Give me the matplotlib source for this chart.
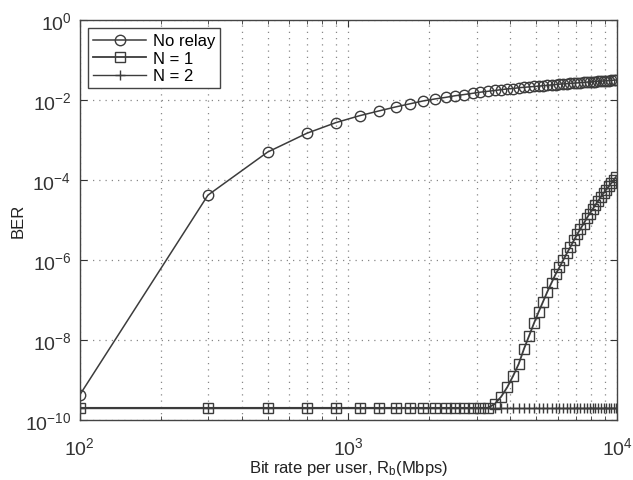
import numpy as np
import matplotlib
matplotlib.use("Agg")
import matplotlib.pyplot as plt
from matplotlib.ticker import LogLocator, NullFormatter

plt.rcParams['font.family'] = ['Liberation Sans', 'DejaVu Sans']
plt.rcParams['mathtext.fontset'] = 'custom'
plt.rcParams['mathtext.rm'] = 'Liberation Sans'
plt.rcParams['mathtext.it'] = 'Liberation Sans:italic'

# bit rate per user (Mbps)
rate = [100, 300, 500, 700, 900, 1100, 1300, 1500, 1700, 1900,
        2100, 2300, 2500, 2700, 2900, 3100, 3300, 3500, 3700, 3900,
        4100, 4300, 4500, 4700, 4900, 5100, 5300, 5500, 5700, 5900,
        6100, 6300, 6500, 6700, 6900, 7100, 7300, 7500, 7700, 7900,
        8100, 8300, 8500, 8700, 8900, 9100, 9300, 9500, 9700, 9900]

# BER without relay
ber_norelay = [4.2e-10, 4.2e-5, 5.0e-4, 1.48e-3, 2.75e-3, 4.07e-3, 5.37e-3, 6.76e-3, 8.13e-3, 9.55e-3,
               1.07e-2, 1.17e-2, 1.29e-2, 1.38e-2, 1.48e-2, 1.58e-2, 1.66e-2, 1.74e-2, 1.82e-2, 1.91e-2,
               1.95e-2, 2.04e-2, 2.09e-2, 2.14e-2, 2.19e-2, 2.24e-2, 2.29e-2, 2.34e-2, 2.40e-2, 2.45e-2,
               2.51e-2, 2.54e-2, 2.57e-2, 2.63e-2, 2.66e-2, 2.69e-2, 2.75e-2, 2.77e-2, 2.82e-2, 2.85e-2,
               2.88e-2, 2.91e-2, 2.95e-2, 2.97e-2, 3.02e-2, 3.04e-2, 3.09e-2, 3.11e-2, 3.16e-2, 3.18e-2]

# BER with one relay
ber_n1 = [2e-10, 2e-10, 2e-10, 2e-10, 2e-10, 2e-10, 2e-10, 2e-10, 2e-10, 2e-10,
          2e-10, 2e-10, 2e-10, 2e-10, 2e-10, 2e-10, 2e-10, 2.5e-10, 3.8e-10, 6.6e-10,
          1.26e-9, 2.5e-9, 6.0e-9, 1.26e-8, 2.6e-8, 5.0e-8, 9.1e-8, 1.62e-7, 2.7e-7, 4.4e-7,
          6.6e-7, 1.0e-6, 1.48e-6, 2.14e-6, 3.1e-6, 4.4e-6, 6.0e-6, 8.1e-6, 1.1e-5, 1.45e-5,
          1.86e-5, 2.4e-5, 3.0e-5, 3.8e-5, 4.7e-5, 5.75e-5, 6.9e-5, 8.3e-5, 1.0e-4, 1.2e-4]

# BER with two relays (stays at the floor)
ber_n2 = [2e-10] * 50

col = '#3c3c3c'

fig = plt.figure(figsize=(6.33, 4.81), dpi=100)
ax = fig.add_axes([0.126, 0.125, 0.849, 0.831])

ax.plot(rate, ber_norelay, '-o', color=col, lw=1.1, ms=7.5, mfc='none', mew=1.0, label='No relay')
ax.plot(rate, ber_n1, '-s', color=col, lw=1.3, ms=6.5, mfc='none', mew=1.0, label='N = 1')
ax.plot(rate, ber_n2, '-+', color=col, lw=1.0, ms=7, mew=1.0, label='N = 2')

ax.set_xscale('log')
ax.set_yscale('log')
ax.set_xlim(100, 10000)
ax.set_ylim(1e-10, 1e0)
ax.set_yticks([1e-10, 1e-8, 1e-6, 1e-4, 1e-2, 1e0])
ax.yaxis.set_minor_locator(plt.NullLocator())
ax.xaxis.set_minor_locator(LogLocator(base=10, subs=np.arange(2, 10)))
ax.xaxis.set_minor_formatter(NullFormatter())

ax.grid(True, which='major', linestyle=(0, (1, 4)), color='#888888', lw=0.9)
ax.grid(True, which='minor', axis='x', linestyle=(0, (1, 4)), color='#888888', lw=0.9)
ax.tick_params(which='both', direction='in', top=True, right=True, labelsize=14, colors='#333333')
ax.tick_params(which='major', length=5)
ax.tick_params(which='minor', length=3)
ax.tick_params(axis='x', which='major', pad=12)
ax.tick_params(axis='y', which='major', pad=6)
for s in ax.spines.values():
    s.set_color('#444444')
    s.set_linewidth(1.0)

ax.set_xlabel('Bit rate per user, R$_\\mathrm{b}$(Mbps)', fontsize=12, color='#222222', labelpad=0)
ax.set_ylabel('BER', fontsize=12, color='#222222')
ax.yaxis.set_label_coords(-0.1, 0.5)

leg = ax.legend(loc='upper left', fontsize=12, handlelength=3.2, handletextpad=0.4, fancybox=False,
                edgecolor='#444444', framealpha=1, borderpad=0.3, labelspacing=0.15,
                borderaxespad=0.5)
leg.get_frame().set_linewidth(1.0)

fig.savefig('out.png', dpi=100)
